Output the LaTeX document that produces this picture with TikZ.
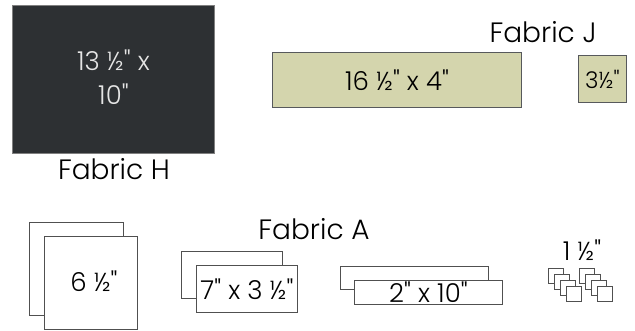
\documentclass[tikz,border=0pt]{standalone}
\usepackage{fontspec}
\setmainfont{Poppins}[UprightFont=* Light, Ligatures=TeXOff]
\usetikzlibrary{positioning}

\definecolor{darkfab}{HTML}{2D3033}
\definecolor{khaki}{HTML}{D4D5AD}
\definecolor{edge}{HTML}{505050}

\tikzset{
  piece/.style={draw=edge, line width=0.9pt, fill=white, inner sep=0pt, anchor=north west},
  dim/.style={font=\fontsize{26}{34}\selectfont, inner sep=0pt},
  fab/.style={font=\fontsize{28}{32}\selectfont, inner sep=0pt, anchor=base},
}

\begin{document}
\begin{tikzpicture}[x=1pt,y=-1pt]
\useasboundingbox (0,0) rectangle (635,331);
% fabric H
\node[piece, fill=darkfab, draw=gray, minimum width=202pt, minimum height=148pt] (H) at (12,5) {};
\node[dim, text=white!90!black, align=center] (Htxt) at ([yshift=2pt]H.center) {13 ½" x\\10"};
\node[fab] (labH) at (114,180) {Fabric H};
% fabric J
\node[piece, fill=khaki, draw=darkfab!80, minimum width=249pt, minimum height=55pt] (J1) at (272,52) {};
\node[dim] (J1txt) at (J1.center) {16 ½" x 4"};
\node[piece, fill=khaki, draw=darkfab!80, minimum width=48pt, minimum height=47pt] (J2) at (578,55) {};
\node[dim, font=\fontsize{23}{26}\selectfont] (J2txt) at (J2.center) {3½"};
\node[fab] (labJ) at (543,43) {Fabric J};
% fabric A
\node[piece, minimum width=94pt, minimum height=93pt] (A1b) at (29,222) {};
\node[piece, minimum width=93pt, minimum height=93pt] (A1) at (44,236) {};
\node[dim] (A1txt) at ([xshift=3pt,yshift=2pt]A1.center) {6 ½"};
\node[piece, minimum width=101pt, minimum height=47pt] (A2b) at (181,251) {};
\node[piece, minimum width=101pt, minimum height=47pt] (A2) at (196,265) {};
\node[dim] (A2txt) at (A2.center) {7" x 3 ½"};
\node[piece, minimum width=148pt, minimum height=23pt] (A3b) at (340,266) {};
\node[piece, minimum width=148pt, minimum height=24pt] (A3) at (354,280) {};
\node[dim] (A3txt) at (A3.center) {2" x 10"};
\node[fab] (labA) at (314,240) {Fabric A};
% small squares
\foreach \g in {0,31}
  \foreach \i in {0,...,3}
    \node[piece, line width=0.8pt, minimum size=15pt] (sq\g\i) at (548+\g+6*\i,268+6*\i) {};
\node[dim] (labsq) at (582,250) {1 ½"};
\end{tikzpicture}
\end{document}
